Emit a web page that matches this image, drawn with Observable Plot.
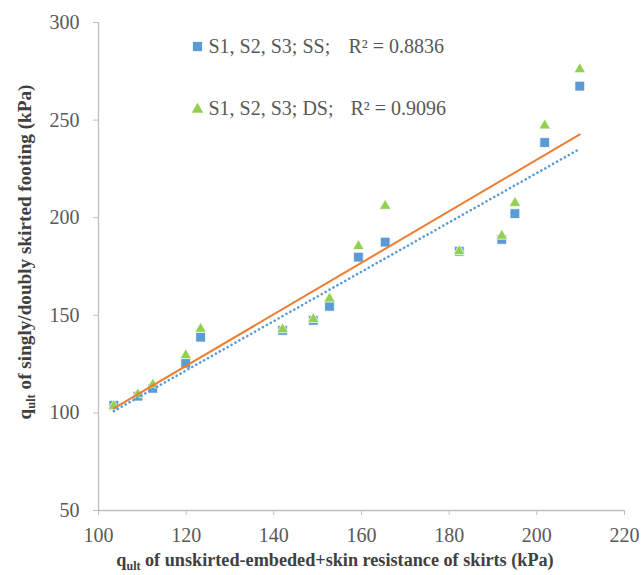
<!DOCTYPE html>
<html><head><meta charset="utf-8">
<script src="https://cdn.jsdelivr.net/npm/d3@7"></script>
<script src="https://cdn.jsdelivr.net/npm/@observablehq/plot@0.6"></script>
<style>
body{margin:0;background:#fff;}
#chart svg{display:block;}
</style></head><body><div id="chart"></div>
<script>
// x: qult of unskirted-embedded + skin resistance of skirts (kPa)
const qUnskirted = [103.5,109.0,112.4,119.9,123.3,142.0,149.0,152.7,159.3,165.4,182.3,192.0,195.0,201.8,209.8];
// y: singly skirted (SS) and doubly skirted (DS)
const qSS = [103.9,108.6,112.6,125.4,138.8,142.3,147.4,154.6,179.8,187.5,182.8,188.9,202.1,238.5,267.4];
const qDS = [103.5,109.5,114.5,129.5,143.0,142.8,148.0,158.5,185.4,206.0,182.8,190.7,207.5,247.2,276.0];
const seriesNames = ["S1, S2, S3; SS;", "S1, S2, S3; DS;"];
const r2Labels = ["R² = 0.8836", "R² = 0.9096"];
const xTicks = [100,120,140,160,180,200,220];
const yTicks = [50,100,150,200,250,300];

const blue = "#5B9BD5", green = "#92D050", orange = "#ED7D31", axisGray = "#BFBFBF", textGray = "#595959";
const data = qUnskirted.map((x, i) => ({x, ss: qSS[i], ds: qDS[i]}));

const plot = Plot.plot({
  width: 641, height: 575,
  marginLeft: 98, marginRight: 17, marginTop: 22, marginBottom: 65,
  style: {fontFamily: "Liberation Serif", fontSize: "20px", background: "#fff", overflow: "visible"},
  x: {domain: [100, 220]},
  y: {domain: [50, 300]},
  marks: [
    Plot.ruleY([50], {stroke: axisGray, strokeWidth: 1.3}),
    Plot.ruleX([100], {stroke: axisGray, strokeWidth: 1.3}),
    Plot.axisX({ticks: xTicks, tickSize: 5, tickPadding: 12, stroke: axisGray, fill: textGray, fontSize: 20, label: null, tickFormat: d => String(d)}),
    Plot.axisY({ticks: yTicks, tickSize: 5, tickPadding: 14, stroke: axisGray, fill: textGray, fontSize: 20, label: null, tickFormat: d => String(d)}),
    Plot.dot(data, {x: "x", y: "ss", symbol: "square", r: 5.5, fill: blue, stroke: "white", strokeWidth: 0.75}),
    Plot.dot(data, {x: "x", y: "ds", symbol: "triangle", r: 4.3, fill: green, stroke: "white", strokeWidth: 0.75}),
    Plot.linearRegressionY(data, {x: "x", y: "ds", stroke: orange, strokeWidth: 2, ci: 0}),
    Plot.linearRegressionY(data, {x: "x", y: "ss", stroke: blue, strokeWidth: 2.6, strokeDasharray: "0.1,4.4", strokeLinecap: "round", ci: 0}),
    // legend
    Plot.dot([seriesNames[0]], {frameAnchor: "top-left", dx: 99, dy: 24, symbol: "square", r: 5.2, fill: blue}),
    Plot.dot([seriesNames[1]], {frameAnchor: "top-left", dx: 99, dy: 87, symbol: "triangle", r: 4.3, fill: green}),
    Plot.text([seriesNames[0]], {frameAnchor: "top-left", lineAnchor: "middle", dx: 110, dy: 24, text: d => d, textAnchor: "start", fill: textGray, fontSize: 20}),
    Plot.text([seriesNames[1]], {frameAnchor: "top-left", lineAnchor: "middle", dx: 110, dy: 86, text: d => d, textAnchor: "start", fill: textGray, fontSize: 20}),
    Plot.text([r2Labels[0]], {frameAnchor: "top-left", lineAnchor: "middle", dx: 250, dy: 24, text: d => d, textAnchor: "start", fill: textGray, fontSize: 20}),
    Plot.text([r2Labels[1]], {frameAnchor: "top-left", lineAnchor: "middle", dx: 252, dy: 86, text: d => d, textAnchor: "start", fill: textGray, fontSize: 20})
  ]
});
document.getElementById("chart").appendChild(plot);

// axis titles with subscripts
const svg = d3.select(plot);
function title(sel, rest, sub) {
  sel.append("tspan").text("q");
  sel.append("tspan").text("ult").attr("font-size", sub + "px").attr("dy", "4");
  sel.append("tspan").text(" " + rest).attr("dy", "-4");
}
const xt = svg.append("text").attr("x", 335).attr("y", 566).attr("text-anchor", "middle")
  .attr("font-family", "Liberation Serif").attr("font-weight", "bold").attr("font-size", "18.2px").attr("fill", "#404040");
title(xt, "of unskirted-embeded+skin resistance of skirts (kPa)", 12);
const yt = svg.append("text").attr("transform", "translate(31,252) rotate(-90)").attr("text-anchor", "middle")
  .attr("font-family", "Liberation Serif").attr("font-weight", "bold").attr("font-size", "19.2px").attr("fill", "#404040");
title(yt, "of singly/doubly skirted footing (kPa)", 12.5);
</script></body></html>
